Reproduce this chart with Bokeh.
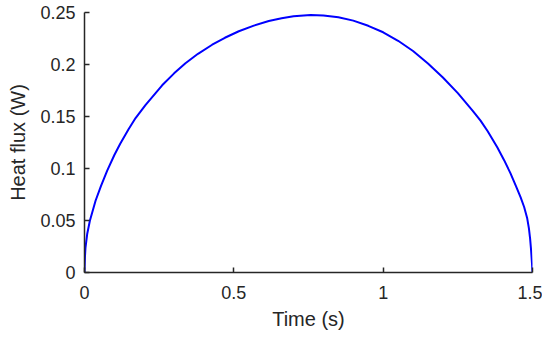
from bokeh.plotting import figure
from bokeh.models import Range1d, FixedTicker
from bokeh.embed import file_html
from bokeh.resources import INLINE

# Data
time_s = [0, 0.0015, 0.0033, 0.009, 0.018, 0.037, 0.055, 0.076, 0.1, 0.12, 0.148,
          0.171, 0.204, 0.26, 0.3, 0.338, 0.38, 0.4275, 0.47, 0.5167, 0.567, 0.617,
          0.66, 0.7, 0.757, 0.8, 0.85, 0.9, 0.95, 1.0, 1.05, 1.1, 1.15, 1.2, 1.25,
          1.3, 1.326, 1.35, 1.382, 1.405, 1.426, 1.445, 1.46, 1.472, 1.482, 1.488,
          1.492, 1.495, 1.498, 1.5]
heat_flux_w = [0, 0.015, 0.024, 0.037, 0.0497, 0.069, 0.083, 0.098, 0.113, 0.124, 0.138,
               0.1485, 0.161, 0.180, 0.1915, 0.2012, 0.2103, 0.219, 0.2257, 0.232, 0.2374,
               0.2418, 0.2445, 0.2463, 0.2477, 0.2472, 0.2455, 0.2422, 0.2372, 0.231,
               0.2228, 0.213, 0.201, 0.1875, 0.1725, 0.1555, 0.146, 0.1358, 0.1205, 0.108,
               0.0955, 0.0828, 0.0725, 0.063, 0.0525, 0.0425, 0.0325, 0.0225, 0.01, 0]

x_ticks = [0, 0.5, 1, 1.5]
y_ticks = [0, 0.05, 0.1, 0.15, 0.2, 0.25]
x_labels = {0: "0", 0.5: "0.5", 1: "1", 1.5: "1.5"}
y_labels = {0: "0", 0.05: "0.05", 0.1: "0.1", 0.15: "0.15", 0.2: "0.2", 0.25: "0.25"}

p = figure(width=542, height=335, output_backend="svg", toolbar_location=None,
           x_range=Range1d(0, 1.5), y_range=Range1d(0, 0.25),
           min_border_left=84, min_border_right=10, min_border_top=12, min_border_bottom=63)

p.line(time_s, heat_flux_w, line_color="#0000ff", line_width=2)

p.outline_line_color = None
p.xgrid.grid_line_color = None
p.ygrid.grid_line_color = None

FONT = "Liberation Sans"
TXT = "#262626"
for ax in (p.xaxis[0], p.yaxis[0]):
    ax.axis_line_color = TXT
    ax.axis_line_width = 1.5
    ax.major_tick_line_color = TXT
    ax.major_tick_line_width = 1.5
    ax.major_tick_in = 5
    ax.major_tick_out = 0
    ax.minor_tick_line_color = None
    ax.major_label_text_font = FONT
    ax.major_label_text_font_size = "18px"
    ax.major_label_text_color = TXT
    ax.axis_label_text_font = FONT
    ax.axis_label_text_font_size = "20px"
    ax.axis_label_text_font_style = "normal"
    ax.axis_label_text_color = TXT

p.xaxis.ticker = FixedTicker(ticks=x_ticks)
p.yaxis.ticker = FixedTicker(ticks=y_ticks)
p.xaxis.major_label_overrides = x_labels
p.yaxis.major_label_overrides = y_labels
p.xaxis.axis_label = "Time (s)"
p.yaxis.axis_label = "Heat flux (W)"
p.xaxis.major_label_standoff = 13
p.yaxis.major_label_standoff = 9
p.xaxis.axis_label_standoff = 6
p.yaxis.axis_label_standoff = 8

open("out.html", "w").write(file_html(p, INLINE))
